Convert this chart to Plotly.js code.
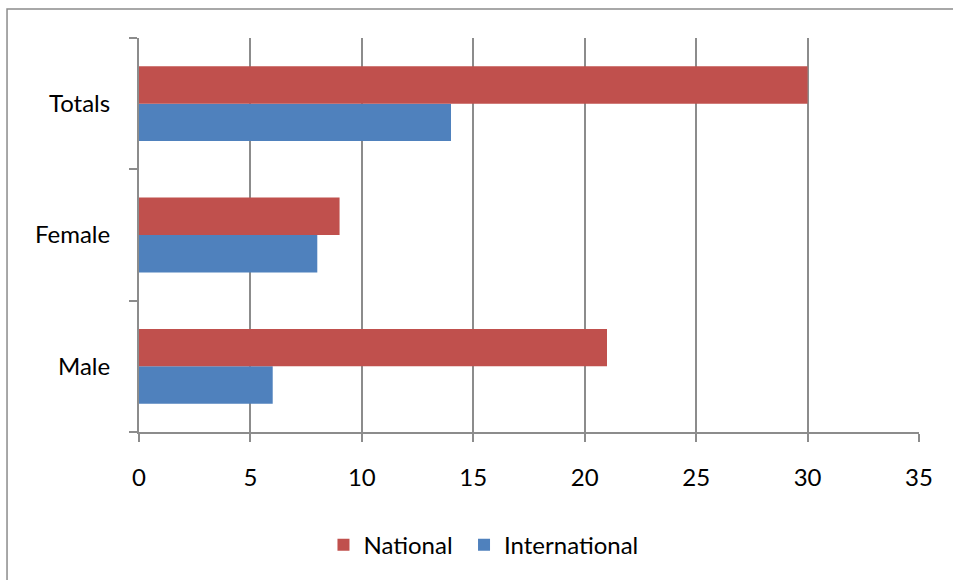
<!DOCTYPE html>
<html>
<head>
<meta charset="utf-8">
<script src="https://cdn.plot.ly/plotly-3.0.1.min.js"></script>
<style>
html,body{margin:0;padding:0;background:#fff;}
#chart{width:953px;height:580px;}
</style>
</head>
<body>
<div id="chart"></div>
<script>
const categories = ["Male", "Female", "Totals"];
const national = [21, 9, 30];
const international = [6, 8, 14];
const seriesNames = ["National", "International"];
const xTicks = [0, 5, 10, 15, 20, 25, 30, 35];

const font = {family: "Lato, Open Sans, sans-serif", size: 24, color: "#000"};
const lineColor = "#8c8c8c";

const traces = [
  {
    type: "bar", orientation: "h", name: seriesNames[1],
    y: categories, x: international,
    marker: {color: "#4F81BD"}, legend: "legend2"
  },
  {
    type: "bar", orientation: "h", name: seriesNames[0],
    y: categories, x: national,
    marker: {color: "#C0504D"}, legend: "legend"
  }
];

const legendBase = {
  orientation: "h", xanchor: "left", y: -0.287, yanchor: "middle",
  font: font, itemwidth: 30, bgcolor: "rgba(0,0,0,0)"
};

const layout = {
  width: 953, height: 580,
  margin: {l: 139, r: 34, t: 38, b: 148},
  paper_bgcolor: "#fff", plot_bgcolor: "#fff",
  font: font,
  barmode: "group",
  bargap: 0.43,
  bargroupgap: 0,
  showlegend: true,
  legend: Object.assign({}, legendBase, {x: 0.2365}),
  legend2: Object.assign({}, legendBase, {x: 0.4167}),
  xaxis: {
    range: [0, 35], tickvals: xTicks, ticktext: xTicks.map(String),
    showgrid: true, gridcolor: lineColor, gridwidth: 2,
    zeroline: false,
    showline: true, linecolor: lineColor, linewidth: 2,
    ticks: "outside", ticklen: 8, tickcolor: lineColor, tickwidth: 2,
    ticklabelstandoff: 15,
    tickfont: font, fixedrange: true
  },
  yaxis: {
    type: "category", categoryorder: "array", categoryarray: categories,
    range: [-0.5, 2.5],
    showgrid: false, zeroline: false,
    showline: true, linecolor: lineColor, linewidth: 2,
    ticks: "outside", ticklen: 8, tickcolor: lineColor, tickwidth: 2,
    tickson: "boundaries",
    ticklabelstandoff: 22,
    tickfont: font, fixedrange: true
  },
  shapes: [{
    type: "rect", xref: "paper", yref: "paper",
    x0: -0.1692, x1: 1.06, y0: -0.41, y1: 1.0736,
    line: {color: lineColor, width: 1.5}, layer: "below"
  }]
};

Plotly.newPlot("chart", traces, layout, {displayModeBar: false, staticPlot: true});
</script>
</body>
</html>
